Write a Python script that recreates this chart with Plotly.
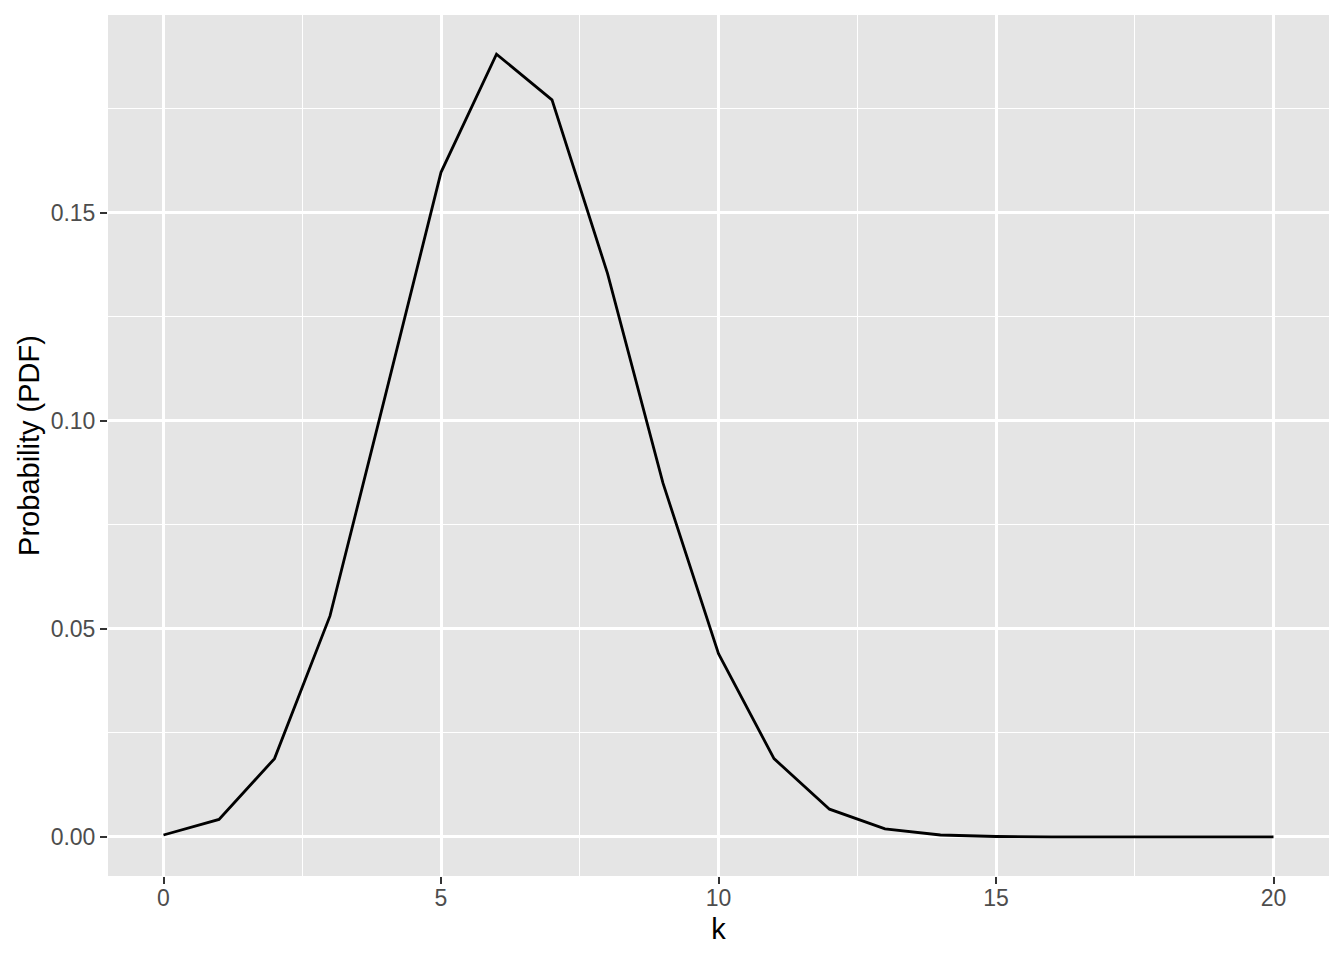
import plotly.graph_objects as go

k_values = list(range(0, 21))
pdf_values = [0.00045, 0.0042, 0.0188, 0.0531, 0.1062, 0.1597, 0.1881, 0.1771,
              0.1354, 0.0850, 0.0440, 0.0188, 0.00665, 0.00193, 0.00045,
              0.000085, 0.0000125, 0.0000014, 0.0000001, 0.0, 0.0]
x_ticks = [0, 5, 10, 15, 20]
y_ticks = [0.00, 0.05, 0.10, 0.15]
y_tick_labels = ["0.00", "0.05", "0.10", "0.15"]

fig = go.Figure()
fig.add_trace(go.Scatter(x=k_values, y=pdf_values, mode="lines",
                         line=dict(color="black", width=2.8), showlegend=False))

font_family = "Liberation Sans, Arial, sans-serif"
ymax = max(pdf_values)
pad = 0.05 * ymax

fig.update_layout(
    width=1344, height=960,
    margin=dict(l=100, r=23, t=7, b=92),
    paper_bgcolor="white", plot_bgcolor="#E5E5E5",
    font=dict(family=font_family),
    xaxis=dict(
        range=[-1, 21], tickvals=x_ticks, ticktext=[str(v) for v in x_ticks],
        showgrid=True, gridcolor="white", gridwidth=2.8,
        minor=dict(tickvals=[2.5, 7.5, 12.5, 17.5], showgrid=True,
                   gridcolor="white", gridwidth=1.4, ticks=""),
        ticks="outside", ticklen=7, tickwidth=2, tickcolor="#333333",
        ticklabelstandoff=-6,
        tickfont=dict(size=23, color="#4D4D4D", family=font_family),
        zeroline=False, showline=False,
        title=dict(text="k", font=dict(size=29, color="black", family=font_family), standoff=9),
    ),
    yaxis=dict(
        range=[-pad, ymax + pad], tickvals=y_ticks, ticktext=y_tick_labels,
        showgrid=True, gridcolor="white", gridwidth=2.8,
        minor=dict(tickvals=[0.025, 0.075, 0.125, 0.175], showgrid=True,
                   gridcolor="white", gridwidth=1.4, ticks=""),
        ticks="outside", ticklen=7, tickwidth=2, tickcolor="#333333",
        tickfont=dict(size=23, color="#4D4D4D", family=font_family),
        zeroline=False, showline=False,
        title=dict(text="Probability (PDF)", font=dict(size=29, color="black", family=font_family), standoff=2),
    ),
)

fig.write_html("out.html")
